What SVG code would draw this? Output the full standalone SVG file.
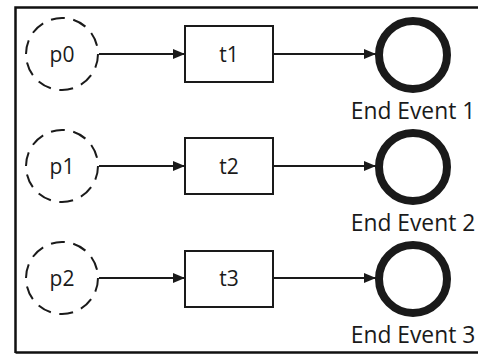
<svg xmlns="http://www.w3.org/2000/svg" width="478" height="354" viewBox="0 0 478 354">
<style>
.place{fill:#fff;stroke:#1a1a1a;stroke-width:2;stroke-dasharray:14,8.6}
.trans{fill:#fff;stroke:#1a1a1a;stroke-width:2}
.end{fill:none;stroke:#1a1a1a;stroke-width:8}
.lbl{font-family:"Open Sans",sans-serif;font-size:21px;fill:#1a1a1a;text-anchor:middle}
.elbl{font-family:"Open Sans",sans-serif;font-size:22.8px;fill:#1a1a1a;text-anchor:middle}
.edge{stroke:#1a1a1a;stroke-width:2;fill:none;marker-end:url(#arr)}
</style>
<defs>
<marker id="arr" viewBox="0 0 12 10" refX="12" refY="5" markerWidth="12" markerHeight="10" markerUnits="userSpaceOnUse" orient="auto">
<path d="M0,0 L12,5 L0,10 Z" fill="#1a1a1a"/>
</marker>
</defs>
<rect x="0" y="0" width="478" height="354" fill="#fff"/>
<path d="M15.5,353 V7.5 H478 M15.5,352.5 H478" fill="none" stroke="#111" stroke-width="2.5"/>
<g id="connectors">
<line class="edge" x1="99" y1="54" x2="185" y2="54"/>
<line class="edge" x1="273" y1="54" x2="376" y2="54"/>
<line class="edge" x1="99" y1="166" x2="185" y2="166"/>
<line class="edge" x1="273" y1="166" x2="376" y2="166"/>
<line class="edge" x1="99" y1="278" x2="185" y2="278"/>
<line class="edge" x1="273" y1="278" x2="376" y2="278"/>
</g>
<g id="p0"><circle class="place" cx="62" cy="54" r="36"/><text class="lbl" x="62" y="61.5">p0</text></g>
<g id="t1"><rect class="trans" x="185" y="26" width="88" height="56"/><text class="lbl" x="229" y="61.5">t1</text></g>
<g id="end1"><circle class="end" cx="413" cy="55" r="34"/><text class="elbl" x="413" y="119">End Event 1</text></g>
<g id="p1"><circle class="place" cx="62" cy="166" r="36"/><text class="lbl" x="62" y="173.5">p1</text></g>
<g id="t2"><rect class="trans" x="185" y="138" width="88" height="56"/><text class="lbl" x="229" y="173.5">t2</text></g>
<g id="end2"><circle class="end" cx="413" cy="167" r="34"/><text class="elbl" x="413" y="231">End Event 2</text></g>
<g id="p2"><circle class="place" cx="62" cy="278" r="36"/><text class="lbl" x="62" y="285.5">p2</text></g>
<g id="t3"><rect class="trans" x="185" y="251" width="88" height="56"/><text class="lbl" x="229" y="286">t3</text></g>
<g id="end3"><circle class="end" cx="413" cy="279" r="34"/><text class="elbl" x="413" y="343">End Event 3</text></g>
</svg>
